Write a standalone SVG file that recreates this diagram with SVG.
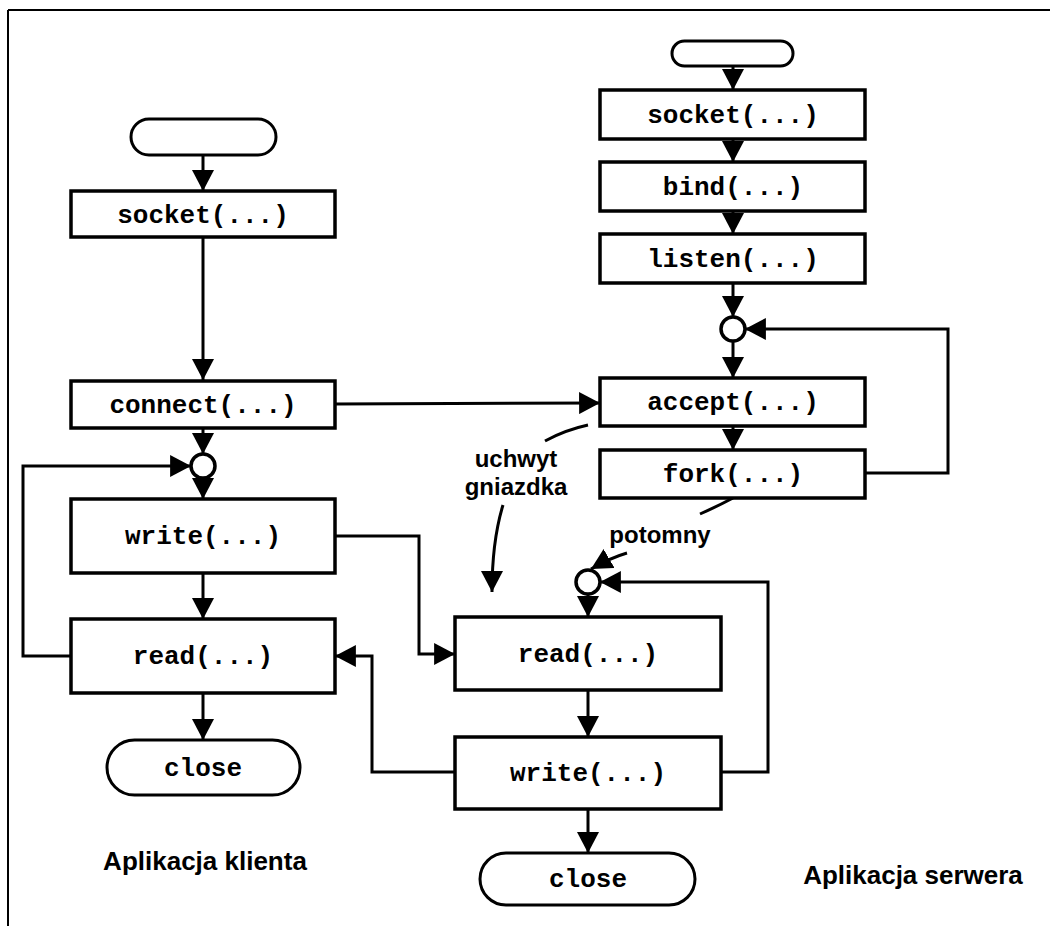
<svg xmlns="http://www.w3.org/2000/svg" width="1058" height="926" viewBox="0 0 1058 926">
<style>
.box{fill:#fff;stroke:#000;stroke-width:3.5}
.term{fill:#fff;stroke:#000;stroke-width:3}
.code{font-family:"Liberation Mono","Courier New",monospace;font-weight:bold;font-size:26px;fill:#000;text-anchor:middle}
.lbl{font-family:"Liberation Sans",Arial,sans-serif;font-weight:bold;font-size:24px;fill:#000;text-anchor:middle}
.big{font-family:"Liberation Sans",Arial,sans-serif;font-weight:bold;font-size:26px;fill:#000;text-anchor:middle}
.ln{fill:none;stroke:#000;stroke-width:3}
.arr{fill:none;stroke:#000;stroke-width:3;marker-end:url(#ah)}
.circ{fill:#fff;stroke:#000;stroke-width:3.5}
</style>
<defs>
<marker id="ah" markerUnits="userSpaceOnUse" markerWidth="22" markerHeight="22" viewBox="0 0 20 20" refX="19" refY="10" orient="auto">
<path d="M0,0 L19,10 L0,20 Z" fill="#000"/>
</marker>
</defs>
<rect width="1058" height="926" fill="#fff"/>
<g id="frame">
<line x1="8" y1="10" x2="1050" y2="10" stroke="#000" stroke-width="2"/>
<line x1="8" y1="10" x2="8" y2="926" stroke="#000" stroke-width="2"/>
</g>
<g id="connectors">
<!-- client -->
<line class="arr" x1="203" y1="155" x2="203" y2="191"/>
<line class="arr" x1="203" y1="237" x2="203" y2="380"/>
<line class="arr" x1="203" y1="428" x2="203" y2="454"/>
<line class="arr" x1="203" y1="478" x2="203" y2="499"/>
<line class="arr" x1="203" y1="573" x2="203" y2="619"/>
<line class="arr" x1="203" y1="693" x2="203" y2="740"/>
<polyline class="arr" points="71,656 23,656 23,466 191,466"/>
<line class="arr" x1="335" y1="404" x2="600" y2="403"/>
<polyline class="arr" points="335,536 419,536 419,654 455,654"/>
<polyline class="arr" points="455,772 372,772 372,656 335,656"/>
<!-- server -->
<line class="arr" x1="733" y1="66" x2="733" y2="90"/>
<line class="arr" x1="733" y1="139" x2="733" y2="162"/>
<line class="arr" x1="733" y1="211" x2="733" y2="234"/>
<line class="arr" x1="733" y1="283" x2="733" y2="317"/>
<line class="arr" x1="733" y1="341" x2="733" y2="378"/>
<line class="arr" x1="733" y1="426" x2="733" y2="450"/>
<polyline class="arr" points="865,473 948,473 948,329 745,329"/>
<line class="arr" x1="588" y1="594" x2="588" y2="617"/>
<line class="arr" x1="588" y1="690" x2="588" y2="737"/>
<line class="arr" x1="588" y1="809" x2="588" y2="853"/>
<polyline class="arr" points="721,772 768,772 768,582 600,582"/>
<!-- annotation curves -->
<path class="ln" d="M588,425 Q565,430 545,441"/>
<path class="arr" d="M503,505 C496,528 492,555 492,592"/>
<path class="ln" d="M733,498 Q718,506 700,514"/>
<path class="arr" d="M627,553 Q610,558 591,569"/>
</g>
<g id="client-start"><rect class="term" x="131" y="119" width="145" height="36" rx="18"/></g>
<g id="client-socket"><rect class="box" x="71" y="191" width="264" height="46"/><text class="code" x="203" y="223">socket(...)</text></g>
<g id="client-connect"><rect class="box" x="71" y="381" width="264" height="47"/><text class="code" x="203" y="413">connect(...)</text></g>
<g id="client-merge"><circle class="circ" cx="203" cy="466" r="12"/></g>
<g id="client-write"><rect class="box" x="71" y="499" width="264" height="74"/><text class="code" x="203" y="544">write(...)</text></g>
<g id="client-read"><rect class="box" x="71" y="619" width="264" height="74"/><text class="code" x="203" y="664">read(...)</text></g>
<g id="client-close"><rect class="term" x="107" y="740" width="193" height="55" rx="27.5"/><text class="code" x="203" y="776">close</text></g>
<g id="server-start"><rect class="term" x="672" y="41" width="121" height="25" rx="12.5"/></g>
<g id="server-socket"><rect class="box" x="600" y="90" width="265" height="49"/><text class="code" x="733" y="123">socket(...)</text></g>
<g id="server-bind"><rect class="box" x="600" y="162" width="265" height="49"/><text class="code" x="733" y="195">bind(...)</text></g>
<g id="server-listen"><rect class="box" x="600" y="234" width="265" height="49"/><text class="code" x="733" y="267">listen(...)</text></g>
<g id="server-merge"><circle class="circ" cx="733" cy="329" r="12"/></g>
<g id="server-accept"><rect class="box" x="600" y="378" width="265" height="48"/><text class="code" x="733" y="410">accept(...)</text></g>
<g id="server-fork"><rect class="box" x="600" y="450" width="265" height="48"/><text class="code" x="733" y="482">fork(...)</text></g>
<g id="child-merge"><circle class="circ" cx="588" cy="582" r="12"/></g>
<g id="server-read"><rect class="box" x="455" y="617" width="266" height="73"/><text class="code" x="588" y="662">read(...)</text></g>
<g id="server-write"><rect class="box" x="455" y="737" width="266" height="72"/><text class="code" x="588" y="781">write(...)</text></g>
<g id="server-close"><rect class="term" x="480" y="853" width="215" height="52" rx="26"/><text class="code" x="588" y="887">close</text></g>
<g id="labels">
<text class="lbl" x="516" y="467">uchwyt</text>
<text class="lbl" x="516" y="495">gniazdka</text>
<text class="lbl" x="660" y="543">potomny</text>
<text class="big" x="205" y="870">Aplikacja klienta</text>
<text class="big" x="913" y="884">Aplikacja serwera</text>
</g>
</svg>
